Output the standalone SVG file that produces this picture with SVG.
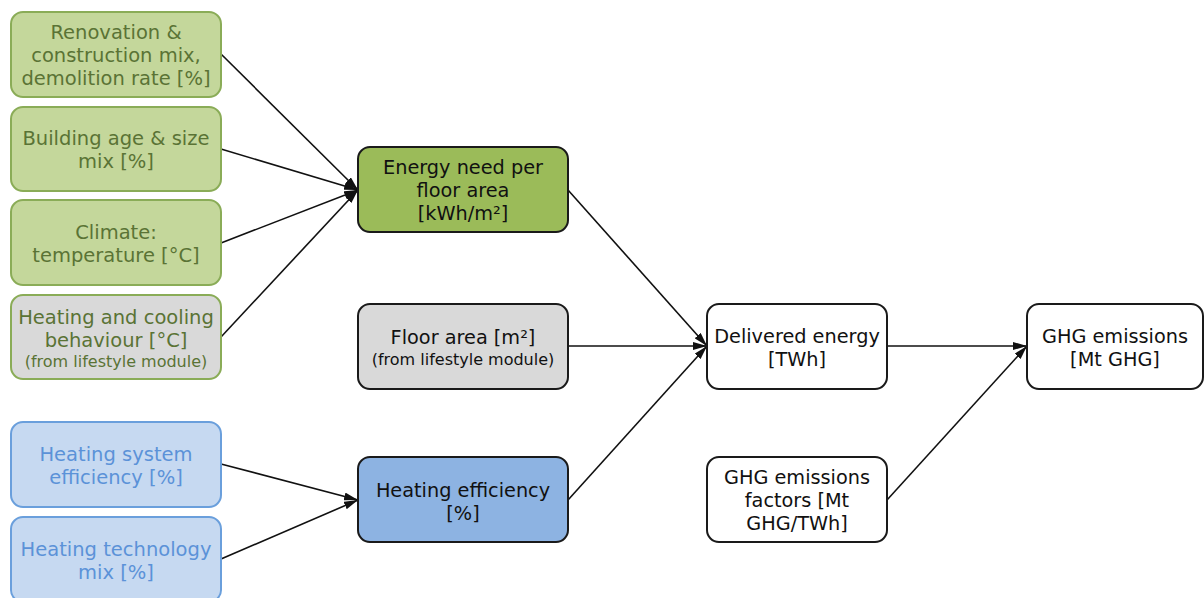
<svg xmlns="http://www.w3.org/2000/svg" width="1204" height="598" viewBox="0 0 1204 598">
<style>
text{font-family:"DejaVu Sans","Liberation Sans",sans-serif;text-anchor:middle;dominant-baseline:central}
.g rect{fill:#c4d79b;stroke:#8aac57;stroke-width:2}
.g text{fill:#5a7335;font-size:19.5px}
.gr rect{fill:#d9d9d9;stroke:#8aac57;stroke-width:2}
.gr text{fill:#5a7335;font-size:19.5px}
.b rect{fill:#c6d9f1;stroke:#6a9fdc;stroke-width:2}
.b text{fill:#5b92d8;font-size:19.5px}
.m rect{stroke:#1a1a1a;stroke-width:2}
.m text{fill:#111;font-size:19.3px}
text.s{font-size:16px}
.c line{stroke:#111;stroke-width:1.6;marker-end:url(#ah)}
</style>
<defs>
<marker id="ah" viewBox="0 0 14 8" refX="14" refY="4" markerWidth="14" markerHeight="8" markerUnits="userSpaceOnUse" orient="auto">
<path d="M0,0 L14,4 L0,8 z" fill="#111"/>
</marker>
</defs>
<g class="c">
<line x1="221" y1="54" x2="358" y2="190"/>
<line x1="221" y1="149" x2="358" y2="190"/>
<line x1="221" y1="243" x2="358" y2="190"/>
<line x1="221" y1="337" x2="358" y2="190"/>
<line x1="221" y1="464" x2="358" y2="500"/>
<line x1="221" y1="559" x2="358" y2="500"/>
<line x1="568" y1="190" x2="707" y2="346"/>
<line x1="568" y1="346" x2="707" y2="346"/>
<line x1="568" y1="500" x2="707" y2="346"/>
<line x1="887" y1="346" x2="1027" y2="346"/>
<line x1="887" y1="500" x2="1027" y2="346"/>
</g>
<g id="n1" class="g"><rect x="11" y="12" width="210" height="85" rx="12"/>
<text x="116" y="32">Renovation &amp;</text><text x="116" y="55">construction mix,</text><text x="116" y="78">demolition rate [%]</text></g>
<g id="n2" class="g"><rect x="11" y="107" width="210" height="84" rx="12"/>
<text x="116" y="138">Building age &amp; size</text><text x="116" y="161">mix [%]</text></g>
<g id="n3" class="g"><rect x="11" y="200" width="210" height="85" rx="12"/>
<text x="116" y="232">Climate:</text><text x="116" y="255">temperature [°C]</text></g>
<g id="n4" class="gr"><rect x="11" y="295" width="210" height="84" rx="12"/>
<text x="116" y="317">Heating and cooling</text><text x="116" y="340">behaviour [°C]</text><text class="s" x="116" y="361">(from lifestyle module)</text></g>
<g id="n5" class="b"><rect x="11" y="422" width="210" height="85" rx="12"/>
<text x="116" y="454">Heating system</text><text x="116" y="477">efficiency [%]</text></g>
<g id="n6" class="b"><rect x="11" y="517" width="210" height="85" rx="12"/>
<text x="116" y="549">Heating technology</text><text x="116" y="572">mix [%]</text></g>
<g id="energy" class="m"><rect x="358" y="147" width="210" height="85" rx="12" fill="#9bbb59"/>
<text x="463" y="167">Energy need per</text><text x="463" y="190">floor area</text><text x="463" y="213">[kWh/m²]</text></g>
<g id="floor" class="m"><rect x="358" y="304" width="210" height="85" rx="12" fill="#d9d9d9"/>
<text x="463" y="337">Floor area [m²]</text><text class="s" x="463" y="359">(from lifestyle module)</text></g>
<g id="heff" class="m"><rect x="358" y="457" width="210" height="85" rx="12" fill="#8db3e2"/>
<text x="463" y="490">Heating efficiency</text><text x="463" y="513">[%]</text></g>
<g id="delivered" class="m"><rect x="707" y="304" width="180" height="85" rx="12" fill="#fff"/>
<text x="797" y="336">Delivered energy</text><text x="797" y="359">[TWh]</text></g>
<g id="ghg" class="m"><rect x="1027" y="304" width="176" height="85" rx="12" fill="#fff"/>
<text x="1115" y="336">GHG emissions</text><text x="1115" y="359">[Mt GHG]</text></g>
<g id="factors" class="m"><rect x="707" y="457" width="180" height="85" rx="12" fill="#fff"/>
<text x="797" y="477">GHG emissions</text><text x="797" y="500">factors [Mt</text><text x="797" y="523">GHG/TWh]</text></g>
</svg>
